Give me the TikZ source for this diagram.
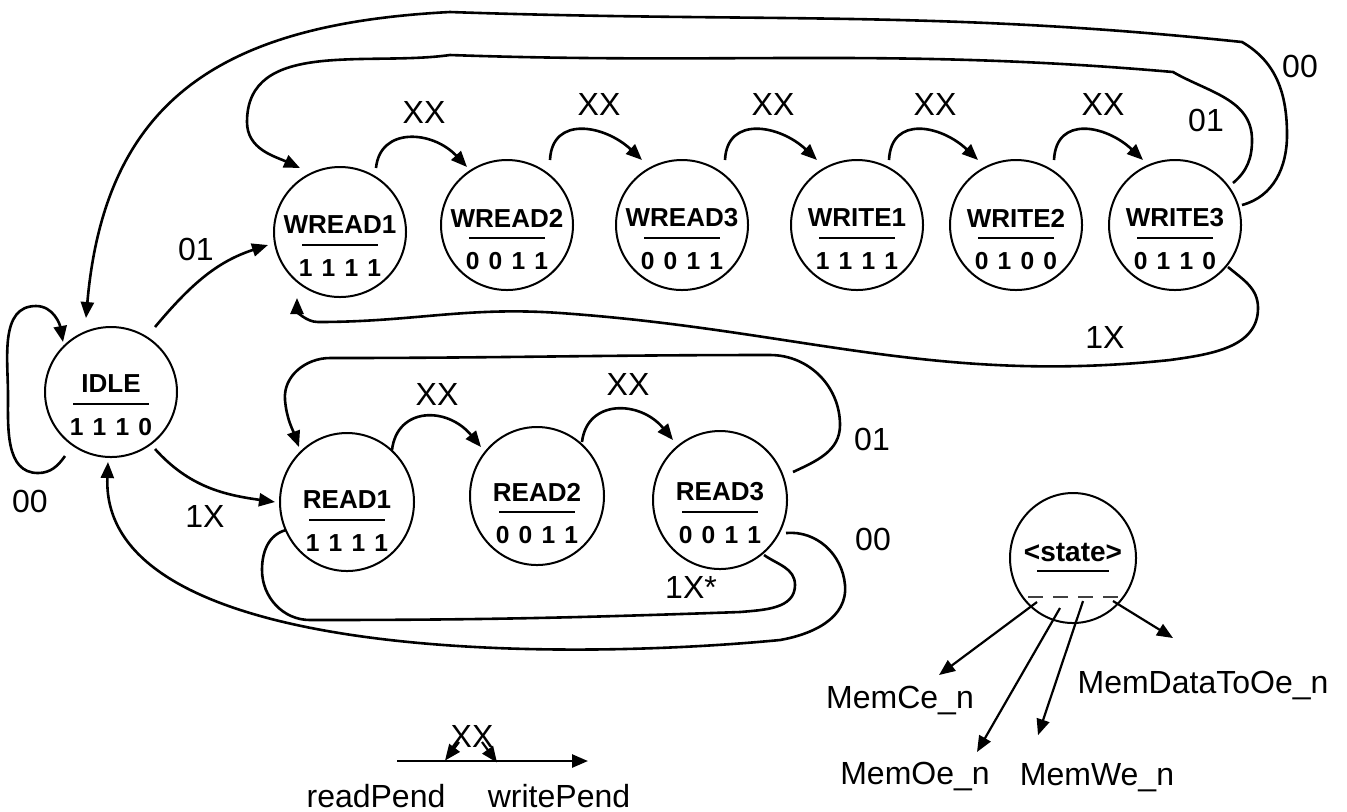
\documentclass[tikz,border=0pt]{standalone}
\usepackage{fontspec}
\setmainfont{Liberation Sans}
\usetikzlibrary{shapes.geometric,arrows.meta,calc}
\newcommand\dg[4]{#1\hspace{4.6pt}#2\hspace{4.6pt}#3\hspace{4.6pt}#4}
\tikzset{
  st/.style={ellipse,draw,line width=1pt,inner sep=0pt,minimum width=66pt,minimum height=65pt},
  rdst/.style={st,minimum width=67pt,minimum height=69pt},
  nm/.style={font=\fontsize{13}{13}\selectfont\bfseries,inner sep=0pt},
  dgt/.style={font=\fontsize{12.3}{12.3}\selectfont\bfseries,inner sep=0pt},
  lbl/.style={font=\fontsize{16}{18}\selectfont,inner sep=0pt,anchor=base},
  arr/.style={line width=1.3pt,-{Triangle[length=8pt,width=6.5pt]}},
  arrs/.style={line width=1.1pt,-{Triangle[length=8pt,width=6.5pt]}},
  ln/.style={line width=1.3pt},
}
\newcommand\mkstate[7]{%
  \node[#7] (#1) at (#2,-#3) {};
  \node[nm] (#1-n) at (#2,-#4) {#5};
  \draw[line width=1pt] ($(#1-n)+(-38,-20)$) -- ($(#1-n)+(38,-20)$);
  \node[dgt] (#1-d) at ($(#1-n)+(0,-43)$) {\dg#6};
}
\newcommand\xxarc[4]{%
  \draw[arr] ($(#1)+(#3,65)$) .. controls ($(#1)+(#3+2,110)$) and ($(#2)+(#4-37,100)$) .. ($(#2)+(#4,65)$);
}
\begin{document}
\begin{tikzpicture}[x=0.5pt,y=0.5pt]
\useasboundingbox (0,0) rectangle (1347,-811);
% states
\mkstate{idle}{111}{392}{384}{IDLE}{1110}{st}
\mkstate{wr1}{340}{232}{225}{WREAD1}{1111}{st}
\mkstate{wr2}{507}{225}{218}{WREAD2}{0011}{st}
\mkstate{wr3}{682}{225}{218}{WREAD3}{0011}{st}
\mkstate{wt1}{857}{225}{218}{WRITE1}{1111}{st}
\mkstate{wt2}{1016}{225}{218}{WRITE2}{0100}{st}
\mkstate{wt3}{1175}{225}{218}{WRITE3}{0110}{st}
\mkstate{rd1}{347}{502}{500}{READ1}{1111}{rdst}
\mkstate{rd2}{537}{496}{492}{READ2}{0011}{rdst}
\mkstate{rd3}{720}{500}{492}{READ3}{0011}{rdst}
% legend state
\node[st,minimum width=63pt,minimum height=65pt] (sst) at (1073,-558) {};
\node[font=\fontsize{14}{14}\selectfont\bfseries,inner sep=0pt] (sst-n) at (1073,-552) {<state>};
\draw[line width=1pt] ($(sst-n)+(-36,-19)$) -- ($(sst-n)+(36,-19)$);
\draw[line width=1pt,black!75,dash pattern=on 7.5pt off 5pt] ($(sst)+(-45,-39)$) -- ($(sst)+(45,-39)$);
% top XX arcs
\draw[arr] ($(wr1)+(36,64)$) .. controls ($(wr1)+(40,105)$) and ($(wr2)+(-75,95)$) .. ($(wr2)+(-40,58)$);
\xxarc{wr2}{wr3}{43}{-40}
\xxarc{wr3}{wt1}{43}{-40}
\xxarc{wt1}{wt2}{32}{-38}
\xxarc{wt2}{wt3}{38}{-32}
% read XX arcs
\draw[arr] ($(rd1)+(45,52)$) .. controls ($(rd1)+(50,95)$) and ($(rd2)+(-90,90)$) .. ($(rd2)+(-56,49)$);
\draw[arr] ($(rd2)+(45,54)$) .. controls ($(rd2)+(50,97)$) and ($(rd3)+(-80,100)$) .. ($(rd3)+(-47,60)$);
% IDLE self loop
\draw[arr] ($(idle)+(-46,-64)$) to[out=-125,in=0] (38,-473) to[out=180,in=-90] (8,-395) to[out=90,in=180] (36,-306) to[out=0,in=100] ($(idle)+(-48,50)$);
% IDLE -> WREAD1, IDLE -> READ1
\draw[arr] ($(idle)+(44,65)$) to[out=50,in=198] ($(wr1)+(-72,-13)$);
\draw[arr] ($(idle)+(44,-57)$) to[out=-48,in=172] ($(rd1)+(-72,0)$);
% WRITE3 -> IDLE (00)
\draw[arr] ($(wt3)+(67,20)$) to[out=15,in=-90] (1287,-135) to[out=90,in=-30] (1242,-42) to[out=174,in=-2] (450,-12) to[out=183,in=85,looseness=1.2] ($(idle)+(-25,74)$);
% WRITE3 -> WREAD1 (01)
\draw[arr] ($(wt3)+(58,42)$) to[out=40,in=-90] (1252,-140) to[out=90,in=-30] (1173,-72) to[out=175,in=-2] (450,-55) to[out=188,in=90] (247,-122) to[out=-90,in=155] ($(wr1)+(-40,64)$);
% WRITE3 -> WREAD1 (1X)
\draw[arr] ($(wt3)+(53,-42)$) to[out=-40,in=90] (1258,-308) to[out=-90,in=8] (1170,-360) to[out=186,in=-4] (560,-313) to[out=176,in=0] (318,-322) to[out=180,in=-90] ($(wr1)+(-43,-66)$);
% READ3 -> READ1 (01)
\draw[arr] ($(rd3)+(73,28)$) to[out=25,in=-90] (840,-425) to[out=90,in=0] (770,-355) to[out=180,in=0] (330,-358) to[out=180,in=95] (285,-400) to[out=-85,in=110] ($(rd1)+(-48,55)$);
% READ3 -> IDLE (00)
\draw[arr] ($(rd3)+(66,-33)$) to[out=5,in=95] (845,-585) to[out=-85,in=10] (780,-640) .. controls (550,-662) and (100,-660) .. ($(idle)+(-3,-70)$);
% READ3 -> READ1 (1X*)
\draw[ln] ($(rd3)+(44,-55)$) to[out=-35,in=90] (795,-585) to[out=-90,in=5] (740,-612) to[out=182,in=0] (310,-620) to[out=180,in=-90] (262,-570) to[out=90,in=195] ($(rd1)+(-61,-28)$);
% labels
\node[lbl] (l1) at (424,-123) {XX};
\node[lbl] (l2) at (599,-115) {XX};
\node[lbl] (l3) at (773,-115) {XX};
\node[lbl] (l4) at (935,-115) {XX};
\node[lbl] (l5) at (1103,-115) {XX};
\node[lbl] (l6) at (1300,-77) {00};
\node[lbl] (l7) at (1206,-131) {01};
\node[lbl] (l8) at (1105,-348) {1X};
\node[lbl] (l9) at (196,-260) {01};
\node[lbl] (l10) at (205,-527) {1X};
\node[lbl] (l11) at (30,-512) {00};
\node[lbl] (l12) at (437,-405) {XX};
\node[lbl] (l13) at (628,-395) {XX};
\node[lbl] (l14) at (872,-450) {01};
\node[lbl] (l15) at (873,-550) {00};
\node[lbl] (l16) at (691,-598) {1X*};
% state legend outputs
\node[lbl] (mce) at (900,-708) {MemCe\_n};
\node[lbl] (moe) at (915,-784) {MemOe\_n};
\node[lbl] (mwe) at (1097,-785) {MemWe\_n};
\node[lbl] (mdo) at (1203,-693) {MemDataToOe\_n};
\draw[arrs] ($(sst)+(-36,-44)$) -- ($(mce)+(39,25)$);
\draw[arrs] ($(sst)+(-13,-50)$) -- ($(moe)+(62,24)$);
\draw[arrs] ($(sst)+(10,-43)$) -- ($(mwe)+(-59,42)$);
\draw[arrs] ($(sst)+(40,-43)$) -- ($(mdo)+(-30,47)$);
% bottom legend
\node[lbl] (lxx) at (472,-747) {XX};
\node[lbl] (rp) at (376,-807) {readPend};
\node[lbl] (wp) at (559,-807) {writePend};
\coordinate (lgA) at (397,-761);
\coordinate (lgB) at (588,-761);
\draw[arr] (lgA) -- (lgB);
\draw[arrs] ($(lxx)+(-13,-6)$) -- ($(rp)+(69,35)$);
\draw[arrs] ($(lxx)+(10,-6)$) -- ($(wp)+(-62,33)$);
\end{tikzpicture}
\end{document}
